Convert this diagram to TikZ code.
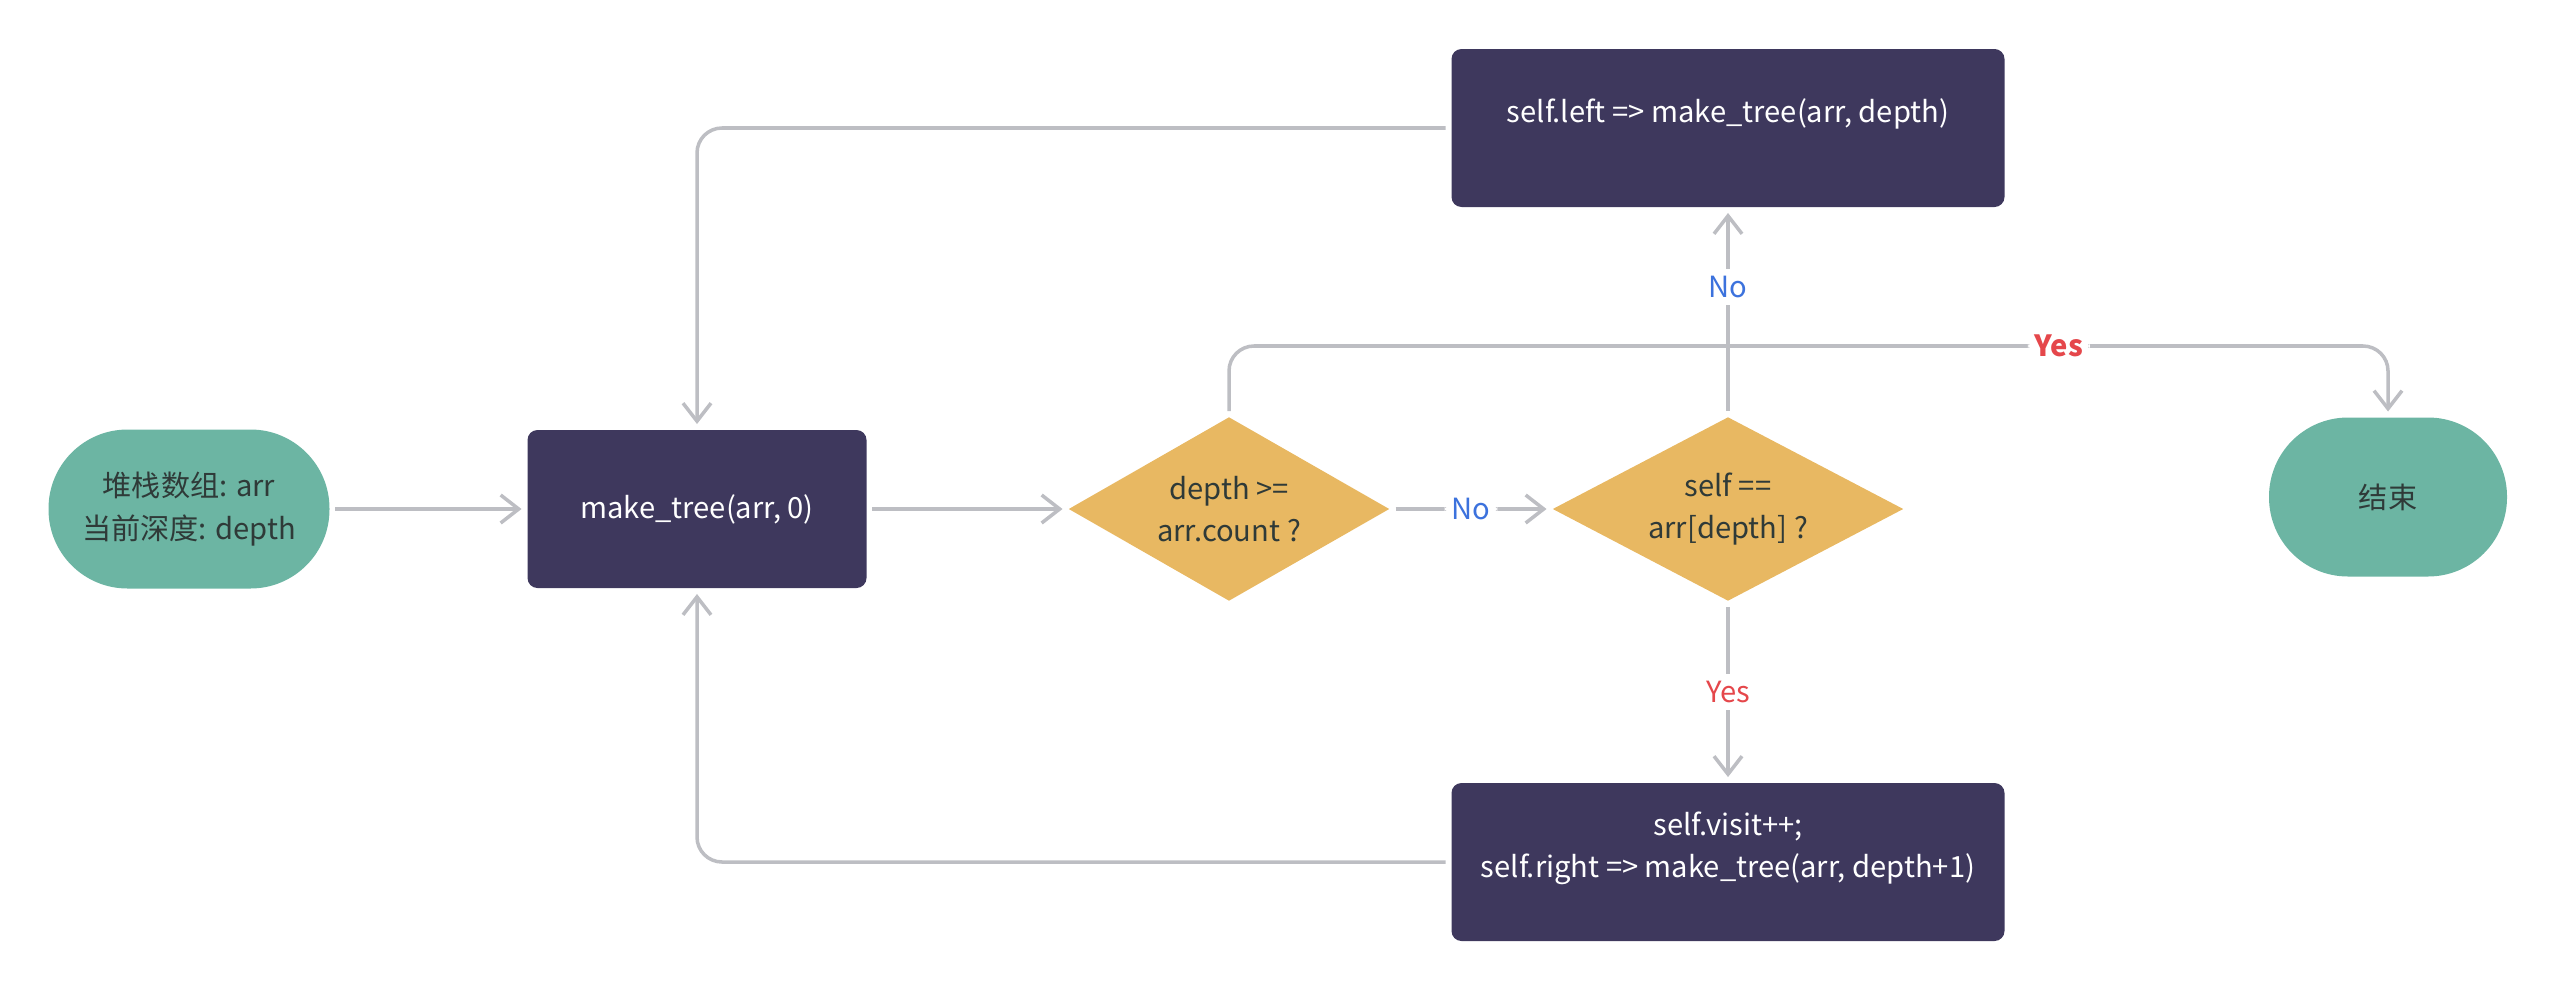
\documentclass[tikz,border=0pt]{standalone}
\usepackage{fontspec}
\setmainfont{Noto Sans CJK SC}
\usepackage{tikz}
\usetikzlibrary{shapes.geometric,arrows.meta}

\definecolor{termgreen}{HTML}{6CB5A3}
\definecolor{procpurple}{HTML}{3E385D}
\definecolor{decgold}{HTML}{E8B862}
\definecolor{linegray}{HTML}{BDBEC3}
\definecolor{nocolor}{HTML}{3C72DD}
\definecolor{yescolor}{HTML}{E5474B}
\definecolor{darktext}{HTML}{2F3A38}

\newcommand{\fnt}{\fontsize{8.3}{12}\selectfont}

\tikzset{
  term/.style={fill=termgreen, text=darktext, align=center, minimum height=1.59cm, rounded corners=7.9mm, inner sep=0pt},
  proc/.style={fill=procpurple, minimum height=1.58cm, rounded corners=1mm},
  proctext/.style={text=white, align=center, yshift=1.4mm},
  decision/.style={diamond, fill=decgold, text=darktext, align=center, minimum height=1.84cm, inner sep=0pt, aspect=1.8},
  flow/.style={draw=linegray, line width=1pt, -{Straight Barb[length=1.8mm,width=2.8mm]}, rounded corners=2.5mm, shorten >=1.5pt, shorten <=1.5pt},
  tag/.style={fill=white, inner sep=2pt}
}

\begin{document}
\begin{tikzpicture}[font=\fnt]
    \useasboundingbox (0,0) rectangle (25.58,-9.90);

    % Nodes
    \node[term, minimum width=2.81cm] (start) at (1.89,-5.09) {堆栈数组: arr\\当前深度: depth};
    \node[proc, minimum width=3.39cm, text=white] (mk) at (6.97,-5.09) {make\_tree(arr, 0)};
    \node[decision, minimum width=3.21cm] (d1) at (12.29,-5.09) {depth >=\\arr.count ?};
    \node[decision, minimum width=3.51cm] (d2) at (17.28,-5.09) {self ==\\arr[depth] ?};
    \node[proc, minimum width=5.53cm, label={[proctext]center:self.left => make\_tree(arr, depth)}] (left) at (17.28,-1.28) {};
    \node[proc, minimum width=5.53cm, label={[proctext]center:self.visit++;\\self.right => make\_tree(arr, depth+1)}] (right) at (17.28,-8.62) {};
    \node[term, minimum width=2.38cm] (end) at (23.88,-4.97) {结束};

    \coordinate (yesrow) at (0,-3.46);

    % Connectors
    \draw[flow] (start) -- (mk);
    \draw[flow] (mk) -- (d1);
    \draw[flow] (d1) -- node[tag, text=nocolor] {No} (d2);
    \draw[flow] (d2) -- node[tag, pos=0.62, text=nocolor] {No} (left);
    \draw[flow] (d2) -- node[tag, text=yescolor] {Yes} (right);
    \draw[flow] (d1.north) |- node[tag, pos=0.858, text=yescolor, font=\fnt\bfseries] {Yes} (yesrow -| end.north) -- (end.north);
    \draw[flow] (left.west) -| (mk.north);
    \draw[flow] (right.west) -| (mk.south);
\end{tikzpicture}
\end{document}
